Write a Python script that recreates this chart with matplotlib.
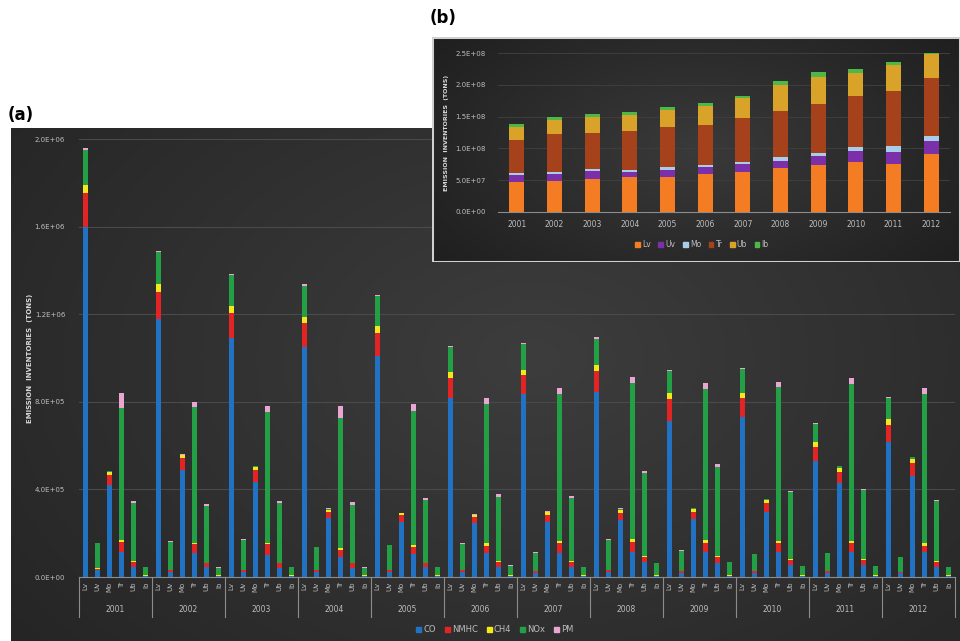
import numpy as np
import matplotlib
matplotlib.use('Agg')
from matplotlib import pyplot as plt
from matplotlib.patches import Patch, Rectangle
from matplotlib.transforms import blended_transform_factory

# emission inventories per vehicle class (thousand tons), 6 classes x 12 years
years = ['2001', '2002', '2003', '2004', '2005', '2006',
         '2007', '2008', '2009', '2010', '2011', '2012']
classes = ['Lv', 'Uv', 'Mo', 'Tr', 'Ub', 'Ib']

co = [1600, 30, 420, 116, 47, 4,
      1178, 24, 489, 108, 47, 4,
      1090, 24, 435, 100, 40, 4,
      1052, 24, 268, 93, 40, 4,
      1009, 24, 253, 103, 44, 4,
      819, 24, 245, 108, 47, 4,
      834, 20, 253, 111, 47, 4,
      846, 24, 260, 116, 70, 4,
      712, 20, 263, 116, 62, 4,
      729, 20, 298, 116, 55, 4,
      530, 20, 431, 116, 55, 4,
      618, 18, 463, 116, 47, 4]
nmhc = [152, 8, 46, 46, 23, 2,
        125, 8, 53, 43, 15, 2,
        117, 8, 53, 50, 23, 2,
        110, 6, 30, 30, 23, 2,
        107, 8, 30, 35, 18, 2,
        88, 8, 30, 35, 23, 2,
        88, 6, 30, 43, 23, 2,
        96, 8, 30, 46, 23, 2,
        99, 6, 35, 38, 30, 2,
        87, 6, 38, 38, 23, 2,
        65, 6, 50, 38, 23, 2,
        76, 5, 59, 26, 23, 2]
ch4 = [38, 2, 15, 5, 3, 1,
       35, 2, 15, 5, 3, 1,
       30, 2, 15, 5, 3, 1,
       27, 2, 10, 10, 3, 1,
       30, 2, 8, 8, 3, 1,
       27, 2, 8, 11, 3, 1,
       23, 2, 15, 10, 3, 1,
       26, 2, 18, 11, 5, 1,
       27, 2, 12, 15, 5, 1,
       26, 2, 15, 11, 3, 1,
       20, 2, 15, 12, 3, 1,
       26, 2, 15, 15, 3, 1]
nox = [162, 115, 3, 603, 264, 38,
       146, 128, 1, 621, 258, 35,
       140, 136, 3, 600, 272, 38,
       142, 105, 3, 595, 264, 35,
       137, 110, 1, 613, 285, 38,
       116, 118, 1, 636, 294, 44,
       117, 83, 1, 671, 287, 38,
       121, 136, 4, 712, 376, 55,
       102, 93, 5, 688, 404, 61,
       109, 75, 3, 701, 305, 41,
       85, 81, 9, 715, 314, 43,
       98, 66, 10, 678, 274, 38]
pm = [5, 2, 2, 72, 12, 2,
      5, 2, 2, 23, 10, 2,
      5, 2, 2, 26, 11, 2,
      5, 2, 2, 53, 11, 2,
      5, 2, 2, 29, 9, 2,
      5, 2, 2, 29, 12, 2,
      5, 2, 2, 26, 10, 2,
      5, 2, 2, 30, 10, 2,
      5, 2, 2, 27, 15, 2,
      5, 2, 2, 26, 7, 2,
      5, 2, 2, 26, 5, 2,
      5, 2, 2, 26, 5, 2]
pollutants = ['CO', 'NMHC', 'CH4', 'NOx', 'PM']

# yearly totals by class (million tons)
lv = [46.6, 49.3, 51.9, 54.5, 55.5, 59.2, 62.9, 69.0, 74.4, 79.0, 75.5, 91.0]
uv = [12.0, 10.0, 12.0, 8.0, 10.5, 11.0, 12.0, 11.5, 13.0, 16.8, 18.9, 19.9]
mo = [2.6, 4.0, 4.0, 4.0, 4.0, 3.0, 4.0, 5.8, 5.2, 5.8, 8.9, 7.9]
tr = [51.6, 59.3, 57.1, 60.5, 63.0, 63.8, 69.1, 72.7, 77.4, 81.4, 86.7, 91.8]
ub = [21.0, 22.4, 24.0, 26.0, 28.0, 30.0, 32.0, 40.0, 43.0, 35.5, 41.6, 38.4]
ib = [4.7, 5.0, 5.0, 5.0, 3.5, 4.0, 3.0, 7.0, 6.6, 6.3, 4.2, 5.0]

pol_colors = ['#2272c3', '#e32424', '#f2e81c', '#23a045', '#e9a6d2']
cls_colors = ['#f47c22', '#7b30aa', '#a9cde9', '#a5421c', '#d9a228', '#4cb848']
txt = '#bdbdbd'

W, H = 960, 641
fig = plt.figure(figsize=(W / 100, H / 100), dpi=100)
fig.patch.set_facecolor('white')

def fx(x):
    return x / W

def fy(y):
    return 1 - y / H

def panel(rect, c_in, c_out, cx=0.5, cy=0.45):
    bg = fig.add_axes(rect)
    yy, xx = np.mgrid[0:1:200j, 0:1:300j]
    r = np.sqrt(((xx - cx) / 0.7) ** 2 + ((yy - cy) / 0.9) ** 2)
    r = np.clip(r, 0, 1)
    c0 = np.array(matplotlib.colors.to_rgb(c_in))
    c1 = np.array(matplotlib.colors.to_rgb(c_out))
    img = c0[None, None, :] * (1 - r[..., None]) + c1[None, None, :] * r[..., None]
    bg.imshow(img, aspect='auto', extent=(0, 1, 0, 1), origin='lower')
    bg.set_axis_off()
    return bg

# ---- (a) main panel
panel([fx(11), 0, fx(949), fy(128)], '#3d3d3d', '#252525', cx=0.55, cy=0.55)
fig.text(fx(8), fy(115), '(a)', fontsize=12, fontweight='bold', va='center', ha='left')

ax = fig.add_axes([fx(79), fy(577), fx(876), (577 - 139) / H])
ax.set_facecolor('none')
x = np.arange(len(co))
bottom = np.zeros(len(co))
for vals, c, name in zip([co, nmhc, ch4, nox, pm], pol_colors, pollutants):
    v = np.array(vals) * 1e3
    ax.bar(x, v, width=0.42, bottom=bottom, color=c, label=name, zorder=3)
    bottom += v
ax.set_xlim(-0.5, len(co) - 0.5)
ax.set_ylim(0, 2.0e6)
ax.set_yticks(np.arange(0, 2.01e6, 4e5))
ax.set_yticklabels(['%.1fE+%02d' % (v / 10 ** (int(np.log10(v)) if v else 0), int(np.log10(v)) if v else 0)
                    for v in np.arange(0, 2.01e6, 4e5)])
ax.tick_params(axis='y', length=0, labelsize=5, labelcolor=txt, pad=10)
ax.set_xticks([])
ax.grid(axis='y', color='#4a4a4a', linewidth=0.8, zorder=0)
for s in ['top', 'right', 'left']:
    ax.spines[s].set_visible(False)
ax.spines['bottom'].set_color('#8c8c8c')
ax.spines['bottom'].set_linewidth(0.8)

tb = blended_transform_factory(ax.transData, ax.transAxes)
for i, xi in enumerate(x):
    ax.text(xi, -0.011, classes[i % 6], transform=tb, rotation=90, ha='center', va='top',
            fontsize=5, color=txt)
for k, yr in enumerate(years):
    ax.text(k * 6 + 2.5, -0.075, yr, transform=tb, ha='center', va='center', fontsize=5.5, color=txt)
for k in range(len(years) + 1):
    ax.plot([k * 6 - 0.5] * 2, [0, -0.092], transform=tb, color='#8c8c8c', lw=0.8, clip_on=False)
ax.text(-0.056, 0.5, 'EMISSION  INVENTORIES  (TONS)', transform=ax.transAxes, rotation=90,
        ha='center', va='center', fontsize=5, fontweight='bold', color='#d9d9d9')

handles = [Patch(color=c) for c in pol_colors]
fig.legend(handles, pollutants, loc='center', bbox_to_anchor=(fx(495), fy(630)), ncol=5, frameon=False,
           fontsize=6, labelcolor=txt, handlelength=0.6, handleheight=0.6, handletextpad=0.3,
           columnspacing=1.0)

# ---- (b) inset panel
ibg = panel([fx(432), fy(262), fx(528), (262 - 37) / H], '#3a3a3a', '#1c1c1c', cx=0.5, cy=0.5)
ibg.add_patch(Rectangle((0, 0), 1, 1, transform=ibg.transAxes, fill=False, ec='#d0d0d0', lw=2.2))
fig.text(fx(430), fy(18), '(b)', fontsize=12, fontweight='bold', va='center', ha='left')

bx = fig.add_axes([fx(498), fy(212), fx(452), (212 - 53) / H])
bx.set_facecolor('none')
xb = np.arange(len(years))
bottom = np.zeros(len(years))
for vals, c, name in zip([lv, uv, mo, tr, ub, ib], cls_colors, classes):
    v = np.array(vals) * 1e6
    bx.bar(xb, v, width=0.4, bottom=bottom, color=c, label=name, zorder=3)
    bottom += v
bx.set_xlim(-0.5, len(years) - 0.5)
bx.set_ylim(0, 2.5e8)
yt = np.arange(0, 2.51e8, 5e7)
bx.set_yticks(yt)
bx.set_yticklabels(['0.0E+00'] + ['%.1fE+%02d' % (v / 10 ** int(np.log10(v)), int(np.log10(v))) for v in yt[1:]])
bx.tick_params(axis='y', length=0, labelsize=5, labelcolor=txt, pad=9)
bx.set_xticks(xb)
bx.set_xticklabels(years)
bx.tick_params(axis='x', length=0, labelsize=5.5, labelcolor=txt, pad=6)
bx.grid(axis='y', color='#3e3e3e', linewidth=0.7, zorder=0)
for s in ['top', 'right', 'left']:
    bx.spines[s].set_visible(False)
bx.spines['bottom'].set_color('#8c8c8c')
bx.set_ylabel('EMISSION  INVENTORIES  (TONS)', fontsize=4.5, fontweight='bold', color='#d9d9d9', labelpad=4)

handles = [Patch(color=c) for c in cls_colors]
fig.legend(handles, classes, loc='center', bbox_to_anchor=(fx(702), fy(245)), ncol=6, frameon=False,
           fontsize=5.5, labelcolor=txt, handlelength=0.6, handleheight=0.6, handletextpad=0.3,
           columnspacing=1.0)

fig.savefig('out.png', dpi=100)
